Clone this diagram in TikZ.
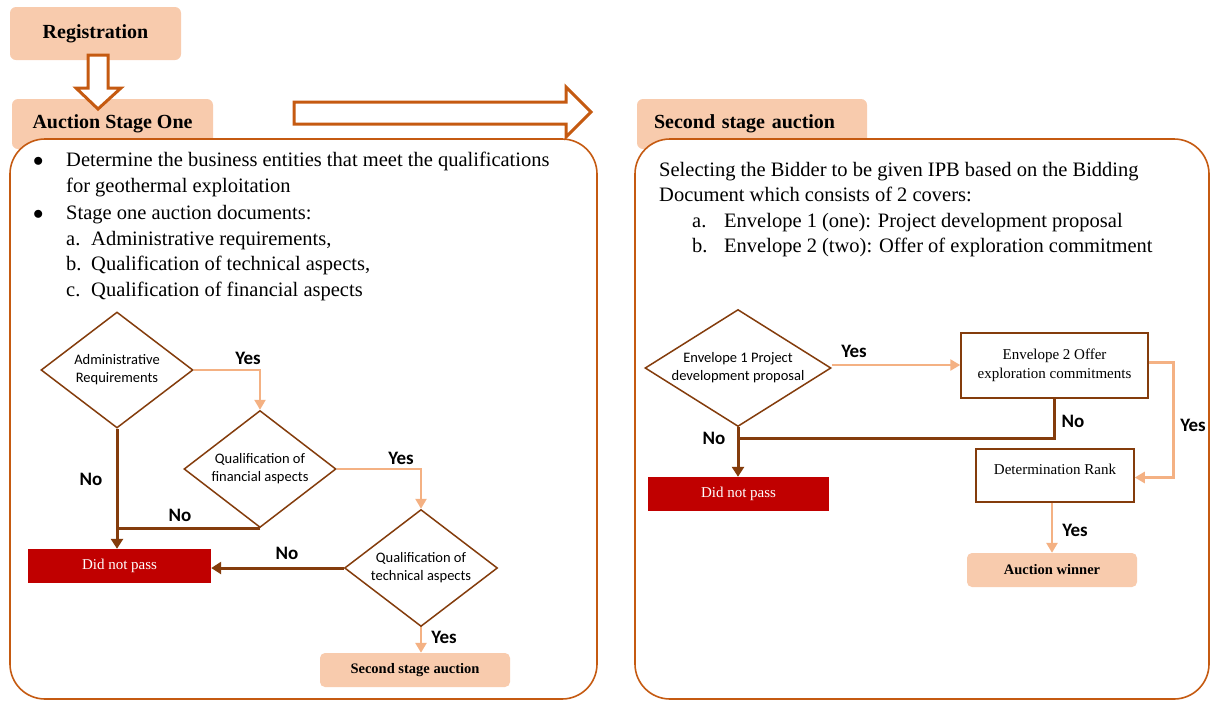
\documentclass[tikz,border=0pt]{standalone}
\usepackage{fontspec}
\setmainfont{Liberation Serif}
\newfontfamily\calibri{Carlito}
\usetikzlibrary{arrows.meta,shapes.geometric,positioning,calc}

\definecolor{peach}{HTML}{F8CBAD}
\definecolor{rust}{HTML}{C55A11}
\definecolor{brownline}{HTML}{843C0C}
\definecolor{lightline}{HTML}{F4B183}
\definecolor{failred}{HTML}{C00000}

\newcommand{\zl}[1]{\makebox[0pt]{#1}}

\tikzset{
  tabbox/.style={fill=peach, rounded corners=6pt, inner sep=0pt, font=\fontsize{20}{24}\selectfont\bfseries},
  bodytext/.style={anchor=base west, inner sep=0pt, font=\fontsize{20.5}{25}\selectfont},
  decision/.style={diamond, draw=brownline, line width=1.5pt, inner sep=0pt, align=center, font=\calibri\fontsize{14.5}{18}\selectfont},
  procbox/.style={draw=brownline, line width=1.5pt, inner sep=0pt, align=center, font=\fontsize{15}{19}\selectfont},
  failbox/.style={fill=failred, text=white, inner sep=0pt, minimum height=34pt, font=\fontsize{15}{18}\selectfont},
  endbox/.style={fill=peach, rounded corners=5pt, inner sep=0pt, minimum height=34pt, font=\fontsize{14.5}{18}\selectfont\bfseries},
  lbl/.style={inner sep=0pt, font=\calibri\bfseries\fontsize{19}{21}\selectfont},
  yesline/.style={draw=lightline, line width=2.6pt, -{Triangle[width=11pt,length=10pt]}},
  noline/.style={draw=brownline, line width=3pt},
  noarrow/.style={noline, -{Triangle[width=12pt,length=10pt]}},
  hollow/.style={draw=rust, line width=3pt, fill=white},
  stagebox/.style={draw=rust, line width=1.6pt, fill=white, rounded corners=35pt}
}

\begin{document}
\begin{tikzpicture}[x=1pt,y=-1pt]
  \useasboundingbox (0,0) rectangle (1210,702);

  % Registration
  \node[tabbox, minimum width=171pt, minimum height=53pt] (reg) at (95.5,33.5) {Registration};

  % Stage one
  \node[tabbox, minimum width=201pt, minimum height=50pt] (tab1) at (112.5,124) {Auction Stage One};
  \draw[stagebox] (10,139) rectangle (597,699);
  \draw[hollow] (88,55) -- (108,55) -- (108,88) -- (121,88) -- (98,109) -- (76,88) -- (88,88) -- cycle;

  % Stage two
  \node[tabbox, minimum width=230pt, minimum height=50pt, inner xsep=17pt, text width=196pt, align=left] (tab2) at (752,124) {Second stage auction};
  \draw[stagebox] (635,139) rectangle (1209,699);
  \draw[hollow] (294,102) -- (566,102) -- (566,87) -- (591,112) -- (566,137) -- (566,124) -- (294,124) -- cycle;

  % Stage one text
  \node[bodytext] (b1) at (33,166) {$\bullet$};
  \node[bodytext] (s1a) at (66,166) {Determine the business entities that meet the qualifications};
  \node[bodytext] (s1b) at (66,192) {for geothermal exploitation};
  \node[bodytext] (b2) at (33,219) {$\bullet$};
  \node[bodytext] (s1c) at (66,219) {Stage one auction documents:};
  \node[bodytext] (ia) at (66,245) {a.};
  \node[bodytext] (s1d) at (91,245) {Administrative requirements,};
  \node[bodytext] (ib) at (66,270) {b.};
  \node[bodytext] (s1e) at (91,270) {Qualification of technical aspects,};
  \node[bodytext] (ic) at (66,296) {c.};
  \node[bodytext] (s1f) at (91,296) {Qualification of financial aspects};

  % Stage two text
  \node[bodytext] (s2a) at (659,176) {Selecting the Bidder to be given IPB based on the Bidding};
  \node[bodytext] (s2b) at (659,201) {Document which consists of 2 covers:};
  \node[bodytext] (ja) at (692,227) {a.};
  \node[bodytext] (s2c) at (724,227) {Envelope 1 (one): Project development proposal};
  \node[bodytext] (jb) at (692,252) {b.};
  \node[bodytext] (s2d) at (724,252) {Envelope 2 (two): Offer of exploration commitment};

  % Stage one flow
  \node[decision, minimum width=152pt, minimum height=116pt] (adm) at (117,370) {\zl{Administrative}\\\zl{Requirements}};
  \node[decision, minimum width=152pt, minimum height=117pt] (fin) at (260,469) {\zl{Qualification of}\\\zl{financial aspects}};
  \node[decision, minimum width=153pt, minimum height=117pt] (tec) at (421,568) {\zl{Qualification of}\\\zl{technical aspects}};
  \node[failbox, minimum width=183pt] (fail1) at (119.5,566) {Did not pass};
  \node[endbox, minimum width=190pt] (next1) at (415,670) {Second stage auction};

  \draw[yesline] (adm.east) -| (fin.north);
  \draw[yesline] (fin.east) -| (tec.north);
  \draw[yesline] (tec.south) -- (tec.south |- next1.north);
  \draw[noarrow] (adm.south) -- (adm.south |- fail1.north);
  \draw[noline] (fin.south) -- (fin.south -| adm.south);
  \draw[noarrow] (tec.west) -- (tec.west -| fail1.east);

  \node[lbl] (y1) at (248,358) {Yes};
  \node[lbl] (n1) at (91,479) {No};
  \node[lbl] (n2) at (180,515) {No};
  \node[lbl] (y2) at (401,458) {Yes};
  \node[lbl] (n3) at (287,553) {No};
  \node[lbl] (y3) at (444,637) {Yes};

  % Stage two flow
  \node[decision, minimum width=186pt, minimum height=117pt] (env1) at (738,368) {\zl{Envelope 1 Project}\\\zl{development proposal}};
  \node[procbox, minimum width=187pt, minimum height=65pt] (env2) at (1054.5,365.5) {Envelope 2 Offer\\exploration commitments};
  \node[failbox, minimum width=181pt] (fail2) at (738.5,494) {Did not pass};
  \node[procbox, minimum width=158pt, minimum height=53pt, text depth=12pt] (rank) at (1055,475.5) {Determination Rank};
  \node[endbox, minimum width=170pt] (win) at (1052,570) {Auction winner};

  \draw[yesline] ([yshift=3pt]env1.east) -- ([yshift=3pt]env1.east -| env2.west);
  \draw[yesline] ([yshift=3pt]env2.east) -- ++(25,0) |- ([yshift=-2pt]rank.east);
  \draw[yesline] (rank.south -| win.north) -- (win.north);
  \draw[noline] (env2.south) |- ([yshift=-11pt]env1.south);
  \draw[noarrow] (env1.south) -- (env1.south |- fail2.north);

  \node[lbl] (y4) at (854,351) {Yes};
  \node[lbl] (n4) at (1073,421) {No};
  \node[lbl] (n5) at (714,438) {No};
  \node[lbl] (y5) at (1193,425) {Yes};
  \node[lbl] (y6) at (1075,530) {Yes};
\end{tikzpicture}
\end{document}
